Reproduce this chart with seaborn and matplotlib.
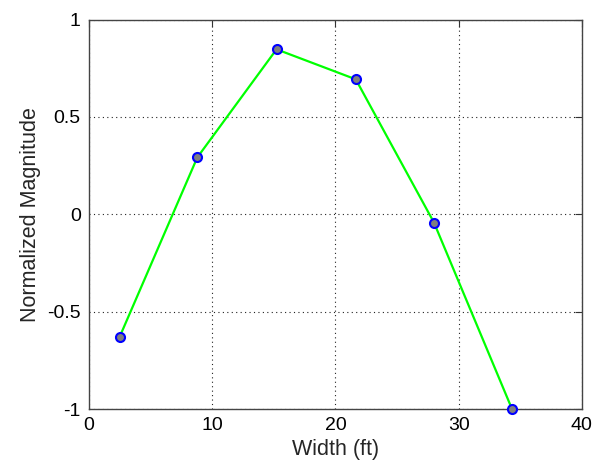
import numpy as np
import pandas as pd
import seaborn as sns
from matplotlib import pyplot as plt

# values
width_ft = [2.49, 8.79, 15.22, 21.65, 28.0, 34.33]
magnitude = [-0.629, 0.292, 0.847, 0.693, -0.043, -1.0]
x_ticks = [0, 10, 20, 30, 40]
y_ticks = [-1, -0.5, 0, 0.5, 1]
y_tick_labels = ['-1', '-0.5', '0', '0.5', '1']

df = pd.DataFrame({'Width (ft)': width_ft, 'Normalized Magnitude': magnitude})

sns.set_style('white')
plt.rcParams['font.family'] = ['Liberation Sans', 'DejaVu Sans']

fig = plt.figure(figsize=(6.08, 4.65), dpi=100)
ax = fig.add_axes([0.1464, 0.1204, 0.8106, 0.8376])

sns.lineplot(data=df, x='Width (ft)', y='Normalized Magnitude', ax=ax,
             color='#00ff00', linewidth=1.6, marker='o', markersize=6.5,
             markerfacecolor='#7f7f7f', markeredgecolor='#0000ff',
             markeredgewidth=1.5, clip_on=False, zorder=3)

ax.set_xlim(0, 40)
ax.set_ylim(-1, 1)
ax.set_xticks(x_ticks)
ax.set_yticks(y_ticks)
ax.set_yticklabels(y_tick_labels)
ax.grid(True, color='#222222', linestyle=(0, (1, 3)), linewidth=0.8)
ax.tick_params(direction='in', top=True, right=True, length=5, width=0.8,
               color='#333333', labelsize=14, labelcolor='black', pad=6)
for s in ax.spines.values():
    s.set_color('#444444')
    s.set_linewidth(1.0)
ax.set_xlabel('Width (ft)', fontsize=15.5, labelpad=3)
ax.set_ylabel('Normalized Magnitude', fontsize=15.5, labelpad=4)

fig.savefig('out.png', dpi=100)
